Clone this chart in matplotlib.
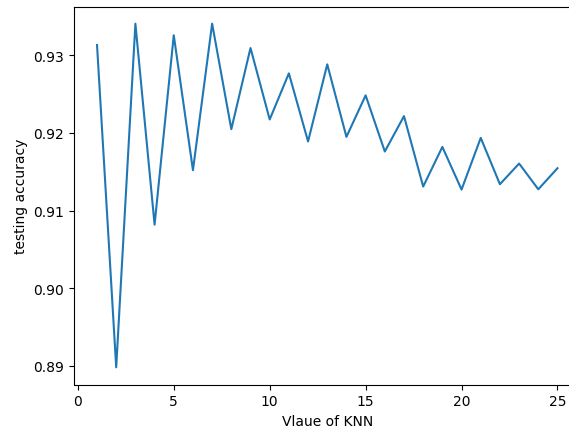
import matplotlib
matplotlib.use("Agg")
import matplotlib.pyplot as plt

k_values = list(range(1, 26))
accuracy = [0.93129, 0.88983, 0.93403, 0.90818, 0.93254, 0.91518, 0.93403, 0.92046,
            0.93090, 0.92171, 0.92764, 0.91888, 0.92880, 0.91947, 0.92481, 0.91759,
            0.92214, 0.91308, 0.91818, 0.91269, 0.91934, 0.91338, 0.91604, 0.91273,
            0.91544]
x_ticks = [0, 5, 10, 15, 20, 25]
y_ticks = [0.89, 0.90, 0.91, 0.92, 0.93]

W, H = 569, 431
dpi = 100
fig = plt.figure(figsize=(W / dpi, H / dpi), dpi=dpi)
left, right, bottom, top = 74.0, 580.5, 385.5, 7.5
ax = fig.add_axes([left / W, (H - bottom) / H, (right - left) / W, (bottom - top) / H])
ax.plot(k_values, accuracy, color='#1f77b4', linewidth=1.5)
ax.set_xlabel('Vlaue of KNN')
ax.set_ylabel('testing accuracy')
ax.set_xticks(x_ticks)
ax.set_yticks(y_ticks)
fig.savefig('out.png', dpi=dpi)
